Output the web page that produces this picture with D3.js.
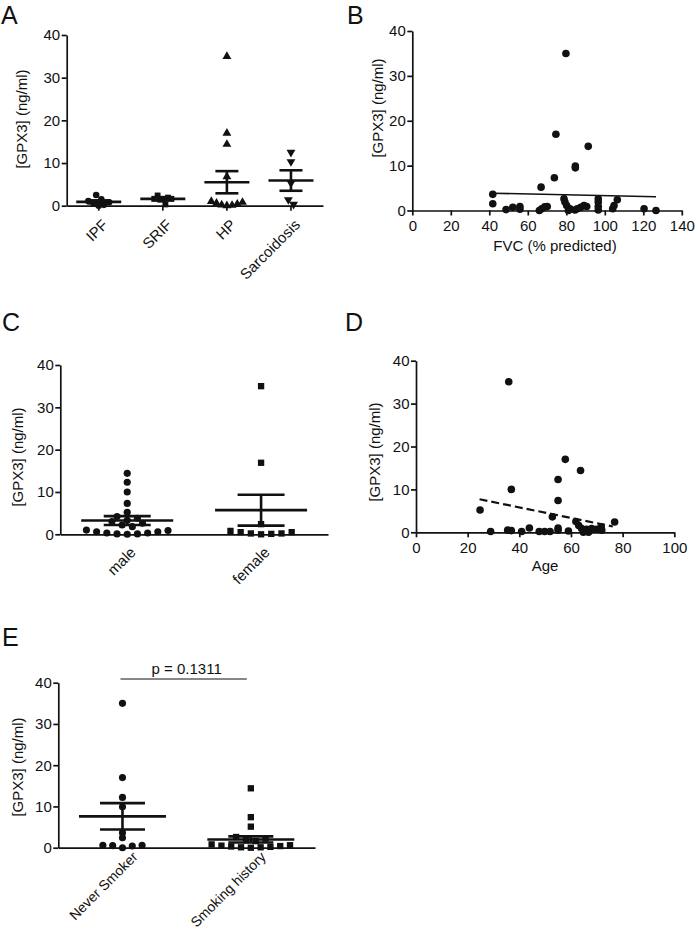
<!DOCTYPE html>
<html><head><meta charset="utf-8">
<script src="https://cdn.jsdelivr.net/npm/d3@7"></script>
<style>
body{margin:0;background:#fff}
text{font-family:"Liberation Sans", Arial, Helvetica, sans-serif; fill:#111}
</style>
</head><body>
<svg id="chart" width="697" height="931"></svg>
<script>
// ---------------- DATA ----------------
const yTicks = [0, 10, 20, 30, 40];
const yTitle = "[GPX3] (ng/ml)";

// Panel A: diagnosis
const diagnosisCats = ["IPF", "SRIF", "HP", "Sarcoidosis"];
const ipfValues = [2.5, 1.5, 1.1, 0.8, 0.6, 0.2, 0.0];
const srifValues = [2.4, 1.9, 1.6, 1.4, 0.3];
const hpValues = [35, 17, 14.4, 6.8, 1.0, 0.8, 0.6, 0.4, 0.2, 0.1, 0.0];
const sarcValues = [12.5, 10.3, 5.3, 1.4, 0.3];
const diagnosisMeans = [0.9, 1.6, 5.5, 5.9];
const diagnosisSems = [0.35, 0.4, 2.6, 2.4];

// Panel B: FVC vs GPX3
const fvcTicks = [0, 20, 40, 60, 80, 100, 120, 140];
const fvcValues = [79.8, 74.6, 91.4, 84.7, 84.7, 73.8, 66.9, 41.8, 41.8, 48.7, 52.2, 55.9, 55.9, 66.0, 67.2, 68.8, 70.1, 78.8, 79.3, 80.2, 81.1, 81.9, 84.5, 85.7, 87.5, 89.2, 90.6, 96.6, 96.6, 96.6, 96.6, 104.1, 104.8, 106.5, 120.4, 126.6];
const fvcGpx3 = [35, 17, 14.3, 9.9, 9.5, 7.3, 5.2, 3.6, 1.5, 0.2, 0.7, 0.9, 0.3, 0.0, 0.4, 0.8, 0.9, 2.6, 1.9, 1.1, 0.0, 0.4, 0.1, 0.4, 0.7, 1.1, 0.9, 2.6, 1.9, 0.9, 0.1, 0.4, 1.1, 2.4, 0.4, 0.0];
const fvcFitX = [41.8, 126.6];
const fvcFitY = [3.85, 3.05];

// Panel C: sex
const sexCats = ["male", "female"];
const maleValues = [14.4, 12.3, 10.0, 7.3, 5.2, 4.2, 3.8, 3.3, 3.0, 2.6, 2.2, 1.8, 1.0, 0.6, 0.3, 0.1, 0.0, 0.1, 0.3, 0.6, 0.9];
const femaleValues = [35, 16.9, 2.4, 0.8, 0.5, 0.2, 0.0, 0.1, 0.2, 0.5];
const sexMeans = [3.25, 5.7];
const sexSems = [1.05, 3.65];

// Panel D: age vs GPX3
const ageTicks = [0, 20, 40, 60, 80, 100];
const ageValues = [35.9, 57.8, 63.7, 55, 36.9, 55, 24.8, 52.8, 76.9, 61.9, 28.9, 35.5, 36.9, 40.9, 43.9, 47.7, 49.8, 51.9, 55, 55, 59, 63, 64.1, 64.8, 66, 66.8, 68, 69.9, 71.7, 71.9];
const ageGpx3 = [35.1, 17.0, 14.4, 12.3, 10.0, 7.4, 5.2, 3.6, 2.4, 2.5, 0.2, 0.5, 0.4, 0.2, 1.0, 0.2, 0.2, 0.2, 1.0, 0.5, 0.3, 1.6, 0.9, 0.0, 0.7, 0.0, 0.9, 0.7, 1.3, 0.5];
const ageFitX = [24.6, 76.2];
const ageFitY = [7.7, 1.35];

// Panel E: smoking
const smokeCats = ["Never Smoker", "Smoking history"];
const neverValues = [35, 17, 12.2, 9.9, 3.6, 2.4, 0.6, 0.5, 0.0, 0.4, 0.6];
const smokerValues = [14.4, 7.4, 5.1, 2.6, 2.2, 1.8, 1.6, 0.8, 0.5, 0.3, 0.1, 0.0, 0.1, 0.2, 0.4, 0.6];
const smokeMeans = [7.6, 2.0];
const smokeSems = [3.2, 0.75];
const pLabel = "p = 0.1311";

// ---------------- DRAWING ----------------
const svg = d3.select("#chart");
const INK = "#111";
const FS = 15;

function styleAxis(g) {
  g.selectAll("path.domain").attr("stroke", INK).attr("stroke-width", 1.7);
  g.selectAll(".tick line").attr("stroke", INK).attr("stroke-width", 1.7);
  g.selectAll(".tick text").attr("font-size", FS).attr("fill", INK)
    .attr("font-family", '"Liberation Sans", Arial, sans-serif');
}

function panelLetter(txt, x, y) {
  svg.append("text").attr("x", x).attr("y", y).attr("font-size", 25).text(txt);
}

function yAxisTitle(cx, cy) {
  svg.append("text").attr("transform", `translate(${cx},${cy}) rotate(-90)`)
    .attr("text-anchor", "middle").attr("dy", "0.35em").attr("font-size", FS).text(yTitle);
}

function yAxis(y, x0) {
  const g = svg.append("g").attr("transform", `translate(${x0},0)`)
    .call(d3.axisLeft(y).tickValues(yTicks).tickSize(5).tickSizeOuter(0).tickPadding(1.5));
  styleAxis(g);
}

function symbolPath(shape, size) {
  if (shape === "circle") return d3.symbol(d3.symbolCircle, size)();
  if (shape === "square") return d3.symbol(d3.symbolSquare, size)();
  return d3.symbol(d3.symbolTriangle, size)();
}

// column scatter: points falling in the same row band are spread symmetrically
function swarm(vals, y, yZero, spacing, rowH) {
  const items = vals.map(v => ({ v, py: y(v), dx: 0 }));
  const rows = d3.group(items, d => Math.floor((yZero - d.py) / rowH));
  rows.forEach(arr => {
    arr.sort((a, b) => a.v - b.v);
    const n = arr.length;
    const slots = d3.range(n).map(i => (i - (n - 1) / 2) * spacing)
      .sort((a, b) => Math.abs(a) - Math.abs(b) || b - a);
    arr.forEach((d, i) => { d.dx = slots[i]; });
  });
  return items;
}

function categoryPanel(o) {
  const y = d3.scaleLinear().domain([0, 40]).range([o.yZero, o.yTop]);
  const x = d3.scaleBand().domain(o.cats).range([o.x0, o.x1]);
  const gx = svg.append("g").attr("transform", `translate(0,${o.yZero})`)
    .call(d3.axisBottom(x).tickSize(o.catTick).tickSizeOuter(0).tickFormat(""));
  styleAxis(gx);
  o.cats.forEach(c => {
    const cx = x(c) + x.bandwidth() / 2;
    svg.append("text")
      .attr("transform", `translate(${cx + o.lab[0]},${o.yZero + o.lab[1]}) rotate(-45)`)
      .attr("text-anchor", "end").attr("font-size", o.labFS || FS).text(c);
  });
  yAxis(y, o.x0);
  o.groups.forEach((vals, gi) => {
    const cx = x(o.cats[gi]) + x.bandwidth() / 2;
    const pts = swarm(vals, y, o.yZero, o.spacing, o.rowH);
    const shape = o.shapes[gi];
    svg.append("g").selectAll("path").data(pts).join("path")
      .attr("d", symbolPath(shape, o.size))
      .attr("transform", d => `translate(${cx + d.dx},${d.py}) rotate(${shape === "down" ? 180 : 0})`)
      .attr("fill", INK);
  });
  o.cats.forEach((c, gi) => {
    const cx = x(c) + x.bandwidth() / 2;
    const m = o.means[gi], s = o.sems[gi];
    const g = svg.append("g").attr("stroke", INK).attr("stroke-width", 2.6).attr("fill", "none");
    g.append("line").attr("x1", cx - o.meanW / 2).attr("x2", cx + o.meanW / 2).attr("y1", y(m)).attr("y2", y(m));
    g.append("line").attr("x1", cx).attr("x2", cx).attr("y1", y(m + s)).attr("y2", y(m - s));
    [m + s, m - s].forEach(v => g.append("line").attr("x1", cx - o.capW / 2).attr("x2", cx + o.capW / 2).attr("y1", y(v)).attr("y2", y(v)));
  });
  return { x, y };
}

function scatterPanel(o) {
  const y = d3.scaleLinear().domain([0, 40]).range([o.yZero, o.yTop]);
  const x = d3.scaleLinear().domain([0, o.xMax]).range([o.x0, o.x1]);
  const gx = svg.append("g").attr("transform", `translate(0,${o.yZero})`)
    .call(d3.axisBottom(x).tickValues(o.xTicks).tickSize(5).tickSizeOuter(0).tickPadding(5));
  styleAxis(gx);
  yAxis(y, o.x0);
  svg.append("g").selectAll("circle").data(o.xs).join("circle")
    .attr("cx", d => x(d)).attr("cy", (d, i) => y(o.ys[i])).attr("r", 3.8).attr("fill", INK);
  svg.append("line")
    .attr("x1", x(o.fitX[0])).attr("y1", y(o.fitY[0])).attr("x2", x(o.fitX[1])).attr("y2", y(o.fitY[1]))
    .attr("stroke", INK).attr("stroke-width", o.dashed ? 2.2 : 1.6)
    .attr("stroke-dasharray", o.dashed ? "8,4" : null);
  svg.append("text").attr("x", o.titleX).attr("y", o.titleY).attr("text-anchor", "middle")
    .attr("font-size", FS).text(o.title);
}

// ---- A ----
panelLetter("A", 1, 24);
yAxisTitle(22, 119);
categoryPanel({
  cats: diagnosisCats, groups: [ipfValues, srifValues, hpValues, sarcValues],
  shapes: ["circle", "square", "up", "down"], means: diagnosisMeans, sems: diagnosisSems,
  x0: 66.7, x1: 323, yZero: 205.7, yTop: 35, size: 34, spacing: 5.2, rowH: 6,
  meanW: 45, capW: 23, catTick: 5, lab: [10, 20]
});

// ---- B ----
panelLetter("B", 347, 24);
yAxisTitle(378, 108);
scatterPanel({
  xs: fvcValues, ys: fvcGpx3, xTicks: fvcTicks, xMax: 140,
  x0: 412.3, x1: 681.8, yZero: 210.5, yTop: 31,
  fitX: fvcFitX, fitY: fvcFitY, dashed: false,
  title: "FVC (% predicted)", titleX: 555, titleY: 251
});

// ---- C ----
panelLetter("C", 2, 331);
yAxisTitle(18, 457);
categoryPanel({
  cats: sexCats, groups: [maleValues, femaleValues],
  shapes: ["circle", "square"], means: sexMeans, sems: sexSems,
  x0: 60.3, x1: 328, yZero: 534.3, yTop: 365, size: 40, spacing: 10.2, rowH: 6.5,
  meanW: 92, capW: 47, catTick: 0, lab: [9.5, 19]
});

// ---- D ----
panelLetter("D", 345, 331);
yAxisTitle(375, 452);
scatterPanel({
  xs: ageValues, ys: ageGpx3, xTicks: ageTicks, xMax: 100,
  x0: 416, x1: 674.3, yZero: 532.3, yTop: 360.7,
  fitX: ageFitX, fitY: ageFitY, dashed: true,
  title: "Age", titleX: 545, titleY: 571
});

// ---- E ----
panelLetter("E", 2, 646);
yAxisTitle(18, 767);
const e = categoryPanel({
  cats: smokeCats, groups: [neverValues, smokerValues],
  shapes: ["circle", "square"], means: smokeMeans, sems: smokeSems,
  x0: 58.3, x1: 315, yZero: 847.7, yTop: 682.7, size: 40, spacing: 9.8, rowH: 6.5,
  meanW: 87, capW: 45, catTick: 0, lab: [16, 10], labFS: 14
});
const c0 = e.x(smokeCats[0]) + e.x.bandwidth() / 2, c1 = e.x(smokeCats[1]) + e.x.bandwidth() / 2;
svg.append("line").attr("x1", c0 - 2).attr("x2", c1 - 4).attr("y1", 679).attr("y2", 679)
  .attr("stroke", INK).attr("stroke-width", 1);
svg.append("text").attr("x", (c0 + c1) / 2).attr("y", 674).attr("text-anchor", "middle")
  .attr("font-size", FS).text(pLabel);
</script>
</body></html>
